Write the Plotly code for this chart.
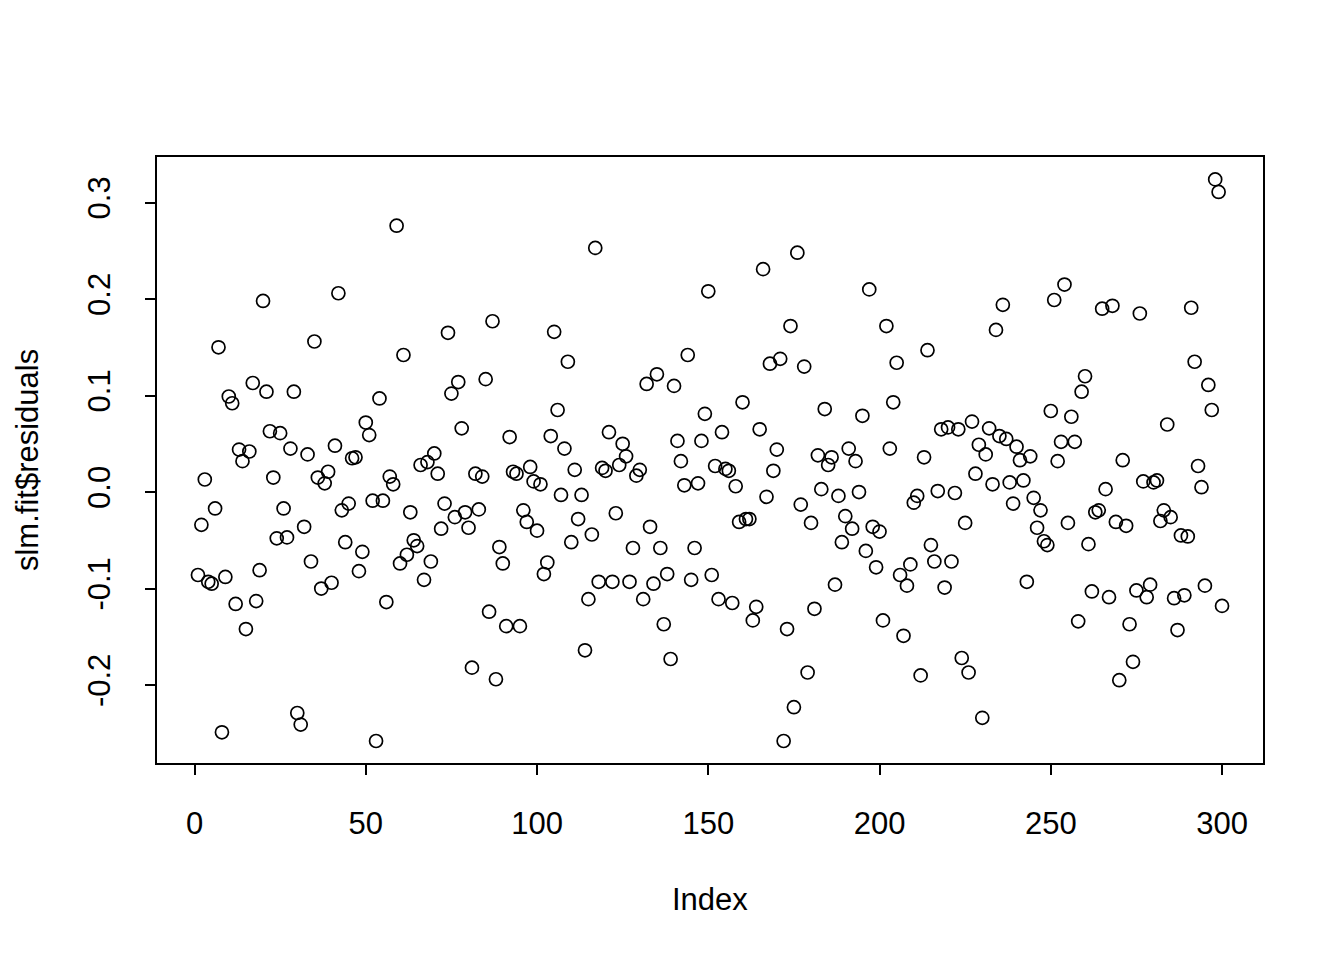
import plotly.graph_objects as go

# residuals of slm.fit (index 1..300)
index = list(range(1, 301))
residuals = [
    -0.086, -0.034, 0.013, -0.093, -0.095, -0.017, 0.150, -0.249, -0.088, 0.099,
    0.092, -0.116, 0.044, 0.032, -0.142, 0.042, 0.113, -0.113, -0.081, 0.198,
    0.104, 0.063, 0.015, -0.048, 0.061, -0.017, -0.047, 0.045, 0.104, -0.229,
    -0.241, -0.036, 0.039, -0.072, 0.156, 0.015, -0.100, 0.009, 0.021, -0.094,
    0.048, 0.206, -0.019, -0.052, -0.012, 0.035, 0.036, -0.082, -0.062, 0.072,
    0.059, -0.009, -0.258, 0.097, -0.009, -0.114, 0.016, 0.008, 0.276, -0.074,
    0.142, -0.065, -0.021, -0.050, -0.056, 0.028, -0.091, 0.031, -0.072, 0.040,
    0.019, -0.038, -0.012, 0.165, 0.102, -0.026, 0.114, 0.066, -0.021, -0.037,
    -0.182, 0.019, -0.018, 0.016, 0.117, -0.124, 0.177, -0.194, -0.057, -0.074,
    -0.139, 0.057, 0.021, 0.019, -0.139, -0.019, -0.031, 0.026, 0.011, -0.040,
    0.008, -0.085, -0.073, 0.058, 0.166, 0.085, -0.003, 0.045, 0.135, -0.052,
    0.023, -0.028, -0.003, -0.164, -0.111, -0.044, 0.253, -0.093, 0.025, 0.022,
    0.062, -0.093, -0.022, 0.028, 0.050, 0.037, -0.093, -0.058, 0.017, 0.023,
    -0.111, 0.112, -0.036, -0.095, 0.122, -0.058, -0.137, -0.085, -0.173, 0.110,
    0.053, 0.032, 0.007, 0.142, -0.091, -0.058, 0.009, 0.053, 0.081, 0.208,
    -0.086, 0.027, -0.111, 0.062, 0.024, 0.022, -0.115, 0.006, -0.031, 0.093,
    -0.028, -0.028, -0.133, -0.119, 0.065, 0.231, -0.005, 0.133, 0.022, 0.044,
    0.138, -0.258, -0.142, 0.172, -0.223, 0.248, -0.013, 0.130, -0.187, -0.032,
    -0.121, 0.038, 0.003, 0.086, 0.028, 0.036, -0.096, -0.004, -0.052, -0.025,
    0.045, -0.038, 0.032, 0.000, 0.079, -0.061, 0.210, -0.036, -0.078, -0.041,
    -0.133, 0.172, 0.045, 0.093, 0.134, -0.086, -0.149, -0.097, -0.075, -0.011,
    -0.004, -0.190, 0.036, 0.147, -0.055, -0.072, 0.001, 0.065, -0.099, 0.067,
    -0.072, -0.001, 0.065, -0.172, -0.032, -0.187, 0.073, 0.019, 0.049, -0.234,
    0.039, 0.066, 0.008, 0.168, 0.058, 0.194, 0.055, 0.010, -0.012, 0.047,
    0.033, 0.012, -0.093, 0.037, -0.006, -0.037, -0.019, -0.051, -0.055, 0.084,
    0.199, 0.032, 0.052, 0.215, -0.032, 0.078, 0.052, -0.134, 0.104, 0.120,
    -0.054, -0.103, -0.021, -0.019, 0.190, 0.003, -0.109, 0.193, -0.031, -0.195,
    0.033, -0.035, -0.137, -0.176, -0.102, 0.185, 0.011, -0.109, -0.096, 0.010,
    0.012, -0.030, -0.019, 0.070, -0.026, -0.110, -0.143, -0.045, -0.107, -0.046,
    0.191, 0.135, 0.027, 0.005, -0.097, 0.111, 0.085, 0.324, 0.311, -0.118,
]

x_ticks = [0, 50, 100, 150, 200, 250, 300]
y_ticks = [-0.2, -0.1, 0.0, 0.1, 0.2, 0.3]
y_tick_labels = ["-0.2", "-0.1", "0.0", "0.1", "0.2", "0.3"]

FONT = "Liberation Sans, Arial, sans-serif"

fig = go.Figure(go.Scatter(
    x=index, y=residuals, mode="markers",
    marker=dict(symbol="circle-open", size=13, color="black",
                line=dict(width=1.7, color="black")),
    hoverinfo="x+y",
))

axis_common = dict(showgrid=False, zeroline=False, showline=True, mirror=True,
                   linecolor="black", linewidth=1.6, ticks="outside", ticklen=10,
                   tickwidth=1.6, tickcolor="black",
                   tickfont=dict(family=FONT, size=31, color="black"))

# R pads the data range by 4% on each side
fig.update_xaxes(range=[-10.96, 311.96], tickvals=x_ticks, ticklabelstandoff=22, **axis_common)
fig.update_yaxes(range=[-0.2808, 0.3472], tickvals=y_ticks, ticktext=y_tick_labels,
                 tickangle=-90, ticklabelstandoff=23, **axis_common)

# page body has an 8px margin, so the figure is a bit smaller than the window
fig.update_layout(
    width=1328, height=944,
    margin=dict(l=149, r=73, t=149, b=189),
    plot_bgcolor="white", paper_bgcolor="white",
    showlegend=False,
    annotations=[
        dict(text="Index", xref="paper", yref="paper", x=0.5, y=-0.226,
             xanchor="center", yanchor="middle", showarrow=False,
             font=dict(family=FONT, size=31, color="black")),
        dict(text="slm.fit$residuals", xref="paper", yref="paper", x=-0.1175, y=0.5,
             xanchor="center", yanchor="middle", textangle=-90, showarrow=False,
             font=dict(family=FONT, size=31, color="black")),
    ],
)

fig.write_html("out.html")
